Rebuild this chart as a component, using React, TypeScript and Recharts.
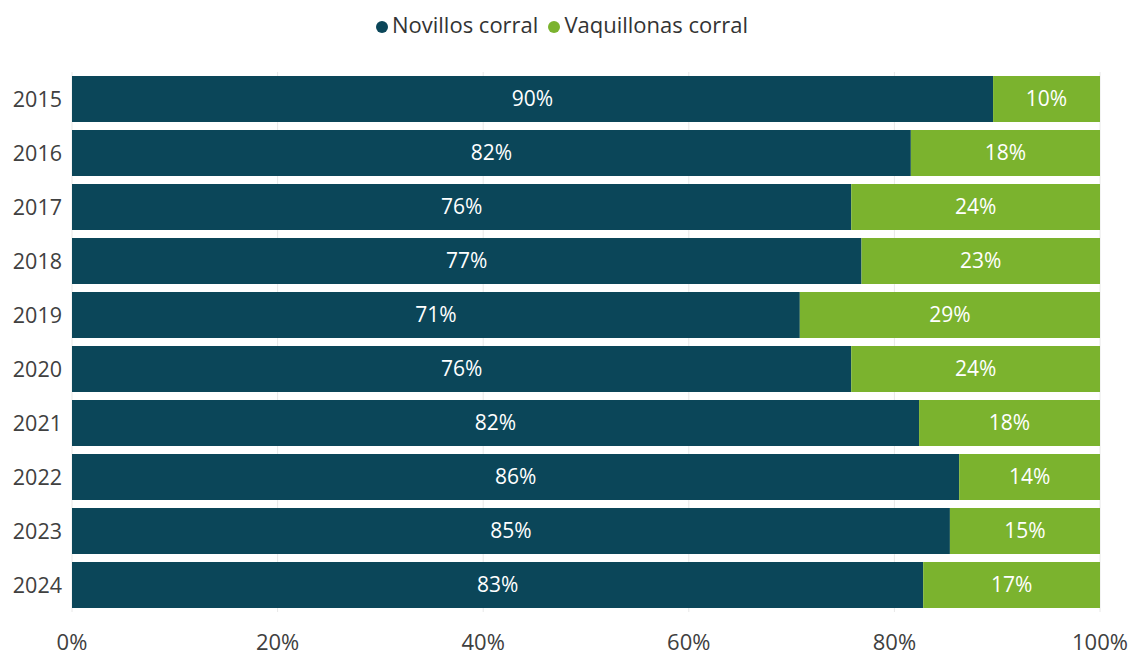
import { Bar, BarChart, CartesianGrid, LabelList, Legend, XAxis, YAxis } from "recharts";

const years = ["2015", "2016", "2017", "2018", "2019", "2020", "2021", "2022", "2023", "2024"];
const novillos = [89.6, 81.6, 75.8, 76.8, 70.8, 75.8, 82.4, 86.3, 85.4, 82.8];
const vaquillonas = [10.4, 18.4, 24.2, 23.2, 29.2, 24.2, 17.6, 13.7, 14.6, 17.2];
const xTicks = [0, 20, 40, 60, 80, 100];

const DARK = "#0b4659";
const GREEN = "#7bb32e";
const FONT = "'Open Sans', 'Noto Sans', sans-serif";

const data = years.map((year, i) => ({
  year,
  novillos: novillos[i],
  vaquillonas: vaquillonas[i],
}));

const pct = (v: any) => `${Math.round(Number(v))}%`;

const App = () => {
  return (
    <div style={{ position: "absolute", left: 0, top: 0, fontFamily: FONT }}>
      <BarChart
        width={1129}
        height={659}
        data={data}
        layout="vertical"
        barSize={46}
        margin={{ top: 42, right: 29, bottom: 0, left: 0 }}
      >
        <CartesianGrid horizontal={false} stroke="#e8e8e8" />
        <XAxis
          type="number"
          domain={[0, 100]}
          ticks={xTicks}
          tickFormatter={(v) => `${v}%`}
          axisLine={false}
          tickLine={false}
          tickSize={0}
          tickMargin={22}
          height={47}
          tick={{ fontSize: 22, fill: "#404040", fontFamily: FONT }}
        />
        <YAxis
          dataKey="year"
          type="category"
          width={72}
          axisLine={false}
          tickLine={false}
          tickSize={0}
          tickMargin={10}
          tick={{ fontSize: 21.5, fill: "#404040", fontFamily: FONT }}
        />
        <Legend
          verticalAlign="top"
          align="center"
          iconType="circle"
          iconSize={12}
          wrapperStyle={{ top: 9, left: 17, fontSize: 22, fontFamily: FONT }}
          formatter={(value) => <span style={{ color: "#333" }}>{value}</span>}
        />
        <Bar dataKey="novillos" name="Novillos corral" stackId="a" fill={DARK} isAnimationActive={false}>
          <LabelList dataKey="novillos" position="center" formatter={pct} fill="#fff" fontSize={21} fontFamily={FONT} />
        </Bar>
        <Bar dataKey="vaquillonas" name="Vaquillonas corral" stackId="a" fill={GREEN} isAnimationActive={false}>
          <LabelList dataKey="vaquillonas" position="center" formatter={pct} fill="#fff" fontSize={21} fontFamily={FONT} />
        </Bar>
      </BarChart>
    </div>
  );
};

export default App;
